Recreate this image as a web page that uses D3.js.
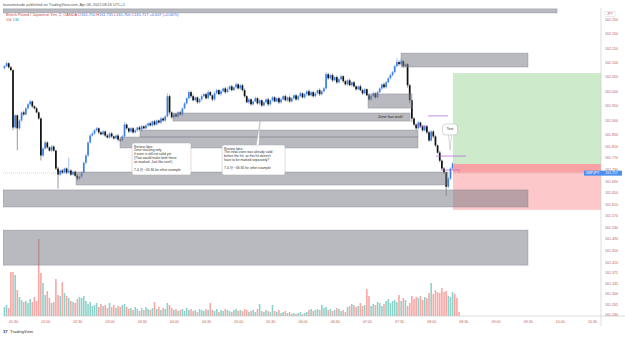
<!DOCTYPE html>
<html>
<head>
<meta charset="utf-8">
<style>
  body { margin: 0; background: #fff; }
  svg { display: block; font-family: "Liberation Sans", Arial, sans-serif; }
</style>
</head>
<body>
<svg id="chart" width="625" height="338"></svg>
<script src="https://d3js.org/d3.v7.min.js"></script>
<script>
// GBPJPY 2 min candles, 01:22 -> 08:26
var firstOpen = 162.080;
var closes = [162.087,162.097,162.083,162.073,161.875,161.917,161.872,161.899,161.927,161.920,
161.941,161.955,161.965,161.948,161.941,161.927,161.906,161.778,161.802,161.823,
161.806,161.795,161.809,161.795,161.733,161.712,161.726,161.719,161.733,161.719,
161.726,161.712,161.722,161.708,161.698,161.705,161.719,161.753,161.778,161.823,
161.847,161.854,161.865,161.872,161.858,161.851,161.861,161.847,161.840,161.854,
161.844,161.837,161.847,161.833,161.830,161.844,161.885,161.872,161.861,161.872,
161.858,161.865,161.875,161.868,161.879,161.872,161.882,161.889,161.882,161.896,
161.885,161.899,161.892,161.906,161.899,161.913,161.983,161.927,161.910,161.920,
161.913,161.927,161.920,161.941,161.958,161.976,161.997,161.983,161.969,161.979,
161.962,161.972,161.983,161.990,161.976,161.997,161.986,161.972,161.993,162.004,
161.990,162.000,162.010,161.997,162.007,162.017,162.004,162.014,162.024,162.010,
162.021,162.004,161.983,161.962,161.972,161.955,161.965,161.976,161.958,161.969,
161.951,161.962,161.972,161.955,161.969,161.979,161.965,161.976,161.962,161.972,
161.983,161.969,161.979,161.965,161.976,161.986,161.972,161.983,161.993,161.979,
161.990,162.000,161.986,161.997,161.983,161.993,162.004,161.990,162.000,162.010,
162.059,162.045,162.056,162.038,162.049,162.031,162.042,162.052,162.035,162.024,
162.038,162.021,162.031,162.017,162.007,162.017,162.004,161.993,162.007,161.986,
161.972,161.983,161.993,161.979,161.997,162.010,162.024,162.014,162.031,162.045,
162.056,162.066,162.087,162.101,162.094,162.104,162.087,162.094,162.021,161.969,
161.906,161.885,161.872,161.892,161.879,161.865,161.879,161.858,161.830,161.861,
161.844,161.813,161.788,161.760,161.733,161.719,161.670,161.698,161.733,161.750,
161.740,161.726,161.717];
// wicks beyond the body, in points (0.001)
var wickUp = [4,6,3,5,3,4,3,5,4,6, 5,4,6,3,4,5,3,4,5,6, 4,3,5,4,3,6,4,5,3,4,
45,5,3,4,6,3,4,5,6,4, 5,6,4,5,3,4,5,3,6,4, 5,3,4,6,3,5,8,4,3,5, 4,6,3,5,4,3,5,4,6,3,
5,4,3,6,4,5,10,6,4,3, 5,4,6,3,5,4,6,5,7,4, 3,5,6,4,5,7,4,3,6,5, 4,6,3,5,7,4,5,3,6,4,
5,4,6,3,5,4,3,6,4,5, 3,5,4,6,3,5,4,3,5,6, 4,5,3,6,4,3,5,4,6,3, 5,4,6,3,5,4,3,6,4,5,
8,5,4,6,3,5,4,6,3,5, 4,6,3,5,4,3,6,5,4,3, 5,4,6,3,5,4,3,6,5,4, 6,5,4,14,6,10,4,5,3,4,
3,5,4,6,3,5,4,3,6,4, 5,4,3,6,4,5,3,6,4,5, 4,3,3];
var wickDn = [4,3,5,4,10,5,76,6,4,5, 3,5,4,6,4,3,5,17,6,4, 5,3,6,4,5,48,4,5,3,6,
4,5,3,4,7,5,4,3,6,5, 4,3,5,4,6,3,4,5,3,4, 5,4,3,6,4,5,3,4,6,5, 4,3,5,4,6,3,4,5,3,4,
5,3,4,6,4,5,3,8,4,5, 3,5,4,6,3,4,5,6,4,3, 5,4,6,3,5,4,3,6,5,4, 3,5,4,6,3,5,4,3,5,4,
6,4,5,3,6,4,5,3,4,6, 5,3,4,6,4,5,3,4,6,5, 3,4,6,5,3,4,5,6,3,4, 5,6,3,4,5,3,4,6,5,4,
3,5,4,6,3,5,4,3,6,4, 5,3,6,4,5,3,4,6,5,3, 4,6,3,5,4,3,6,4,5,3, 4,5,3,4,6,3,5,4,8,10,
12,6,5,4,6,5,4,6,5,4, 6,5,4,6,8,5,31,6,5,4, 5,4,3];
var volumes = [90,110,80,440,440,410,260,190,160,140, 150,130,170,140,190,150,770,430,330,210,
250,180,130,140,370,210,200,340,230,200, 180,150,140,130,170,190,180,200,150,120,
140,100,110,130,90,120,100,110,80,130, 90,110,80,100,90,110,120,90,70,80,
60,90,70,50,80,60,90,70,60,80, 140,70,90,60,80,70,130,110,80,60,
70,50,60,70,50,80,60,70,50,60, 40,70,60,50,70,60,130,60,50,70,
40,60,50,70,60,50,40,60,70,50, 60,50,70,60,40,50,60,40,70,120,
50,40,60,50,40,110,50,40,60,30, 40,50,30,40,20,30,20,30,40,20,
30,40,60,70,50,60,70,60,110,80, 90,60,70,50,60,80,70,50,60,40,
90,100,120,110,90,100,130,100,110,270, 200,100,120,110,140,130,100,120,150,170,
130,150,160,140,210,150,180,160,100,130, 200,170,190,180,200,160,190,180,230,330,
220,260,240,230,280,240,250,200,190,240, 220,180,40];

var priceTicks = ["162.250","162.200","162.150","162.100","162.050","162.000","161.950","161.900","161.850",
  "161.810","161.770","161.730","161.690","161.650","161.610","161.570","161.530","161.490","161.450",
  "161.410","161.375","161.335","161.300","161.265","161.230"];
var timeTicks = ["01:30","02:00","02:30","03:00","03:30","04:00","04:30","05:00","05:30","06:00",
  "06:30","07:00","07:30","08:00","08:30","09:00","09:30","10:00","10:30"];

// drawn zones: [from (min), to (min), top price, bottom price]
var zoneFrom = [80.7, 451.9, 421.1, 239.2, 208.4, 189.8, 148.8, 80.7, 80.7];
var zoneTo   = [597.4, 570.3, 462.1, 460.3, 467.7, 467.7, 495.7, 570.3, 570.3];
var zoneTop  = [162.285, 162.132, 161.991, 161.925, 161.866, 161.842, 161.721, 161.659, 161.520];
var zoneBot  = [162.271, 162.084, 161.942, 161.897, 161.842, 161.804, 161.676, 161.600, 161.399];

// wick marker lines: [from, to, price]
var markFrom = [477.1, 465.9, 484.5, 490.1];
var markTo   = [495.7, 477.1, 512.5, 506.9];
var markPrice = [161.915, 161.880, 161.776, 161.728];

// long position tool
var posFrom = 500.4, posTarget = 162.063, posEntry = 161.749, posMid = 161.718, posStop = 161.590;

var note1 = ["Review Idea:", "Zone stacking only", "if zone is still not valid yet", "(That would make both these",
  "as marked. Just like next!)", "", "7-4 @ ~05:30 for other example"];
var note2 = ["Review Idea:", "The initial zone was already valid", "before the hit, so this hit doesn't",
  "have to be marked separately?", "", "7-4 @ ~06:30 for other example"];

var svg = d3.select("#chart");
var x = d3.scaleLinear().domain([90, 630]).range([13, 592]);
var y = d3.scaleLinear().domain([161.230, 162.250]).range([314, 19]);
var yv = d3.scaleLinear().domain([0, 1000]).range([316, 216]);

var candles = closes.map(function(c, i) {
  var o = i ? closes[i - 1] : firstOpen;
  return { t: 82 + 2 * i, o: o, c: c,
    h: Math.max(o, c) + wickUp[i] / 1000, l: Math.min(o, c) - wickDn[i] / 1000, v: volumes[i] };
});

svg.append("defs").append("clipPath").attr("id", "pane")
  .append("rect").attr("x", 3).attr("y", 8).attr("width", 598).attr("height", 308);

// header
svg.append("text").attr("x", 3).attr("y", 6).attr("font-size", 3.8).attr("fill", "#555")
  .text("lauramstrade published on TradingView.com, Apr 08, 2022 08:26 UTC+1");

var pane = svg.append("g").attr("clip-path", "url(#pane)");

// volume
pane.append("g").selectAll("rect").data(candles).enter().append("rect")
  .attr("x", function(d) { return x(d.t) - 0.8; })
  .attr("width", 1.6)
  .attr("y", function(d) { return yv(d.v); })
  .attr("height", function(d) { return yv(0) - yv(d.v); })
  .attr("fill", function(d) { return d.c >= d.o ? "#8dd2ca" : "#f7a7a4"; });

// candles
var cg = pane.append("g");
cg.selectAll("line").data(candles).enter().append("line")
  .attr("x1", function(d) { return x(d.t); }).attr("x2", function(d) { return x(d.t); })
  .attr("y1", function(d) { return y(d.h); }).attr("y2", function(d) { return y(d.l); })
  .attr("stroke", function(d) { return d.c >= d.o ? "#4a86e0" : "#333"; })
  .attr("stroke-width", 0.5);
cg.selectAll("rect").data(candles).enter().append("rect")
  .attr("x", function(d) { return x(d.t) - 0.85; })
  .attr("width", 1.7)
  .attr("y", function(d) { return y(Math.max(d.o, d.c)); })
  .attr("height", function(d) { return Math.max(0.6, Math.abs(y(d.o) - y(d.c))); })
  .attr("fill", function(d) { return d.c >= d.o ? "#3f80e6" : "#111"; });

// position tool
var pg = pane.append("g");
pg.append("rect").attr("x", x(posFrom)).attr("width", 200)
  .attr("y", y(posTarget)).attr("height", y(posEntry) - y(posTarget)).attr("fill", "#cdeacb");
pg.append("rect").attr("x", x(posFrom)).attr("width", 200)
  .attr("y", y(posEntry)).attr("height", y(posMid) - y(posEntry)).attr("fill", "#f7a3a5");
pg.append("rect").attr("x", x(posFrom)).attr("width", 200)
  .attr("y", y(posMid)).attr("height", y(posStop) - y(posMid)).attr("fill", "#fcc8c9");

// zones
pane.append("g").selectAll("rect").data(zoneFrom).enter().append("rect")
  .attr("x", function(d) { return x(d); })
  .attr("width", function(d, i) { return x(zoneTo[i]) - x(d); })
  .attr("y", function(d, i) { return y(zoneTop[i]); })
  .attr("height", function(d, i) { return y(zoneBot[i]) - y(zoneTop[i]); })
  .attr("fill", "rgba(120,123,134,0.52)")
  .attr("stroke", "rgba(120,123,134,0.6)").attr("stroke-width", 0.6);

// wick markers
pane.append("g").selectAll("line").data(markFrom).enter().append("line")
  .attr("x1", function(d) { return x(d); })
  .attr("x2", function(d, i) { return x(markTo[i]); })
  .attr("y1", function(d, i) { return y(markPrice[i]); })
  .attr("y2", function(d, i) { return y(markPrice[i]); })
  .attr("stroke", "#b05fd0").attr("stroke-width", 0.7);

// last price line
var last = closes[closes.length - 1];
pane.append("line").attr("x1", 3).attr("x2", 601).attr("y1", y(last)).attr("y2", y(last))
  .attr("stroke", "#7aa6f0").attr("stroke-width", 0.4).attr("stroke-dasharray", "1,1");

// zone label
svg.append("text").attr("x", x(430.4)).attr("y", y(161.909)).attr("font-size", 3.8).attr("fill", "#222")
  .text("Zone has wick!");

// Test callout
var tx = x(497.6);
svg.append("path")
  .attr("d", "M" + (tx - 1.5) + "," + y(161.849) + "L" + tx + "," + y(161.797) + "L" + (tx + 1.5) + "," + y(161.849))
  .attr("fill", "#fff").attr("stroke", "#999").attr("stroke-width", 0.4);
svg.append("rect").attr("x", tx - 7.5).attr("y", y(161.887)).attr("width", 15)
  .attr("height", y(161.849) - y(161.887)).attr("rx", 3)
  .attr("fill", "#fff").attr("stroke", "#999").attr("stroke-width", 0.4);
svg.append("text").attr("x", tx).attr("y", y(161.866)).attr("text-anchor", "middle")
  .attr("font-size", 3.5).attr("fill", "#333").text("Test");

// review notes
function note(lines, t0, t1, pTop, pBot, tip) {
  var g = svg.append("g");
  if (tip) {
    g.append("path")
      .attr("d", "M" + (x(tip[0]) - 4) + "," + (y(pTop) + 0.5) + "L" + x(tip[0]) + "," + y(tip[1]) + "L" + (x(tip[0]) - 1) + "," + (y(pTop) + 0.5))
      .attr("fill", "#fff").attr("stroke", "#999").attr("stroke-width", 0.4);
  }
  g.append("rect").attr("x", x(t0)).attr("y", y(pTop)).attr("width", x(t1) - x(t0))
    .attr("height", y(pBot) - y(pTop)).attr("rx", 2)
    .attr("fill", "#fff").attr("stroke", "#aaa").attr("stroke-width", 0.4);
  g.selectAll("text").data(lines).enter().append("text")
    .attr("x", x(t0) + 2).attr("y", function(d, i) { return y(pTop) + 4.5 + i * 3.9; })
    .attr("font-size", 3.3).attr("fill", "#333").text(function(d) { return d; });
}
note(note1, 201, 256, 161.821, 161.711, null);
note(note2, 285, 343.7, 161.814, 161.711, [320.4, 161.897]);

// legend
var lg = svg.append("text").attr("x", 6).attr("y", 15.5).attr("font-size", 3.9);
lg.append("tspan").attr("fill", "#c8504c").text("British Pound / Japanese Yen, 2, OANDA  ");
[["O", "161.710"], ["H", "161.735"], ["L", "161.700"], ["C", "161.717"]].forEach(function(p) {
  lg.append("tspan").attr("fill", "#c8504c").text(p[0]);
  lg.append("tspan").attr("fill", "#4a6fd0").text(p[1] + " ");
});
lg.append("tspan").attr("fill", "#4a6fd0").text("+0.007 (+0.00%)");
var vl = svg.append("text").attr("x", 6).attr("y", 20.5).attr("font-size", 3.9);
vl.append("tspan").attr("fill", "#c8504c").text("Vol  ");
vl.append("tspan").attr("fill", "#26a69a").text("136");

// axes frame
svg.append("line").attr("x1", 601).attr("x2", 601).attr("y1", 8).attr("y2", 326).attr("stroke", "#c8c8c8").attr("stroke-width", 0.6);
svg.append("line").attr("x1", 3).attr("x2", 625).attr("y1", 316).attr("y2", 316).attr("stroke", "#c8c8c8").attr("stroke-width", 0.6);

// price axis
var yAxis = d3.axisRight(y).tickValues(priceTicks.map(Number)).tickSize(0).tickPadding(0)
  .tickFormat(function(d, i) { return priceTicks[i]; });
var ya = svg.append("g").attr("transform", "translate(605,0)").call(yAxis);
ya.select(".domain").remove();
ya.selectAll("text").attr("font-size", 3.6).attr("fill", "#c0605c").attr("font-family", "Liberation Sans, Arial, sans-serif");
svg.append("rect").attr("x", 605).attr("y", 11.5).attr("width", 10).attr("height", 5)
  .attr("fill", "#fff").attr("stroke", "#ccc").attr("stroke-width", 0.4);
svg.append("text").attr("x", 610).attr("y", 15.2).attr("text-anchor", "middle").attr("font-size", 3.4)
  .attr("fill", "#c0605c").text("JPY");

// last price tag
svg.append("rect").attr("x", 584).attr("y", y(last) - 2.5).attr("width", 38).attr("height", 5)
  .attr("fill", "#4d8ef0");
svg.append("text").attr("x", 592.5).attr("y", y(last) + 1.3).attr("text-anchor", "middle").attr("font-size", 3.4)
  .attr("fill", "#fff").text("GBPJPY");
svg.append("text").attr("x", 611.5).attr("y", y(last) + 1.3).attr("text-anchor", "middle").attr("font-size", 3.4)
  .attr("fill", "#fff").text("161.717");

// time axis
var tMin = timeTicks.map(function(s) { var p = s.split(":"); return +p[0] * 60 + +p[1]; });
var xAxis = d3.axisBottom(x).tickValues(tMin).tickSize(0).tickPadding(0)
  .tickFormat(function(d, i) { return timeTicks[i]; });
var xa = svg.append("g").attr("transform", "translate(0,320)").call(xAxis);
xa.select(".domain").remove();
xa.selectAll("text").attr("font-size", 3.6).attr("fill", "#c0605c").attr("font-family", "Liberation Sans, Arial, sans-serif");

// footer logo
svg.append("text").attr("x", 3).attr("y", 333).attr("font-size", 4.2).attr("font-weight", "bold")
  .attr("fill", "#222").text("17");
svg.append("text").attr("x", 10).attr("y", 333).attr("font-size", 4.2).attr("fill", "#333").text("TradingView");
</script>
</body>
</html>
